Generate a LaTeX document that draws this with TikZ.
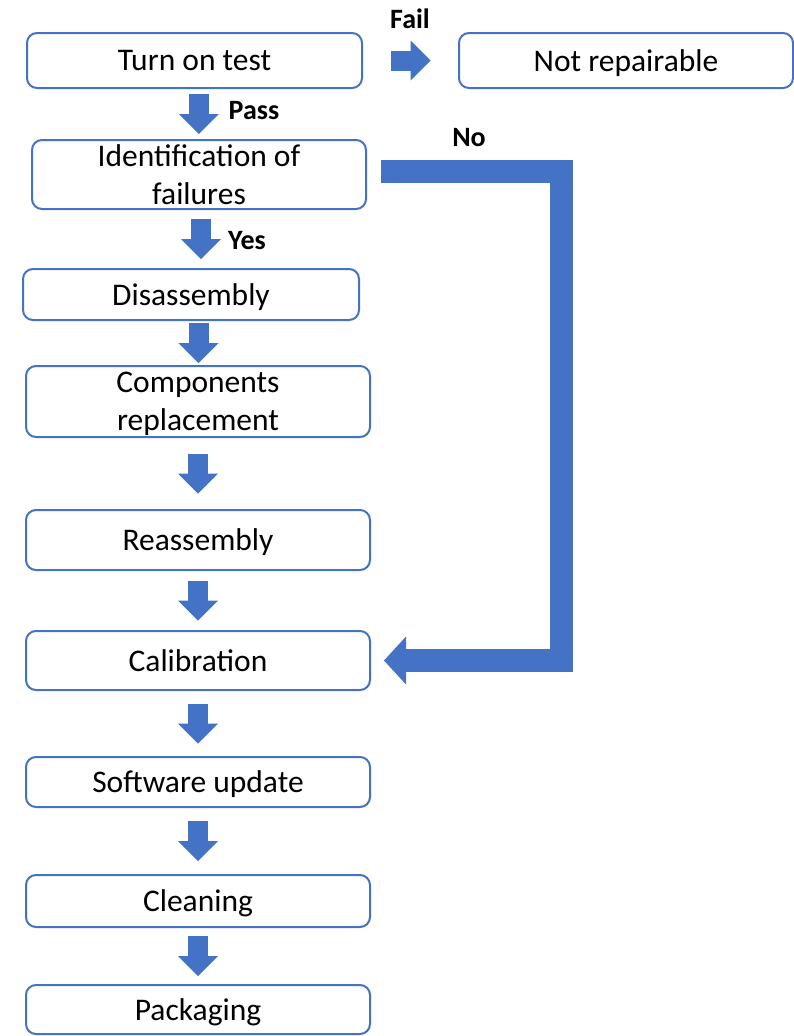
\documentclass[tikz,border=0pt]{standalone}
\usepackage{fontspec}
\setmainfont{Carlito}
\usetikzlibrary{arrows.meta,calc}
\definecolor{officeblue}{HTML}{4472C4}

\begin{document}
\begin{tikzpicture}[
x=1pt, y=1pt,
box/.style={
draw=officeblue,
line width=2pt,
rounded corners=10pt,
align=center,
inner sep=0pt,
text depth=0pt,
font=\fontsize{31.5}{38}\selectfont
},
lbl/.style={
font=\fontsize{28}{32}\selectfont\bfseries
},
flow/.style={
officeblue,
line width=20pt,
-{Triangle[width=40pt,length=20pt,line width=0pt]}
},
bigflow/.style={
officeblue,
line width=23pt,
line join=miter,
-{Triangle[width=48pt,length=22pt,line width=0pt]}
}
]

\useasboundingbox (0,0) rectangle (794,-1036);

\node[box, minimum width=335pt, minimum height=55pt] (T) at (194.5,-60.5) {Turn on test};
\node[box, minimum width=334pt, minimum height=55pt] (N) at (626,-60.5) {Not repairable};
\node[box, minimum width=334pt, minimum height=69pt] (I) at (199,-174.5) {Identification of\\failures};
\node[box, minimum width=336pt, minimum height=51pt] (D) at (191,-294.5) {Disassembly};
\node[box, minimum width=344pt, minimum height=71pt] (C) at (198,-401.5) {Components\\replacement};
\node[box, minimum width=344pt, minimum height=60pt] (R) at (198,-540) {Reassembly};
\node[box, minimum width=344pt, minimum height=59pt] (K) at (198,-660.5) {Calibration};
\node[box, minimum width=344pt, minimum height=50pt] (S) at (198,-782) {Software update};
\node[box, minimum width=344pt, minimum height=52pt] (L) at (198,-901) {Cleaning};
\node[box, minimum width=344pt, minimum height=49pt] (P) at (198,-1009.5) {Packaging};

\node[lbl] (fail) at (410,-19) {Fail};
\node[lbl] (pass) at (254,-111) {Pass};
\node[lbl] (yes) at (247,-241) {Yes};
\node[lbl] (no) at (469,-138) {No};

\draw[flow] ($(T.east)!.5!(N.west)+(-20,0)$) -- +(40,0);
\draw[flow] ($(T.south)!.5!(I.north)+(2,20)$) -- +(0,-40);
\draw[flow] ($(I.south)!.5!(D.north)+(6,20)$) -- +(0,-40);
\draw[flow] ($(D.south)!.5!(C.north)+(4,20)$) -- +(0,-40);
\draw[flow] ($(C.south)!.5!(R.north)+(0,20)$) -- +(0,-40);
\draw[flow] ($(R.south)!.5!(K.north)+(0,20)$) -- +(0,-40);
\draw[flow] ($(K.south)!.5!(S.north)+(0,20)$) -- +(0,-40);
\draw[flow] ($(S.south)!.5!(L.north)+(0,20)$) -- +(0,-40);
\draw[flow] ($(L.south)!.5!(P.north)+(0,20)$) -- +(0,-40);

\draw[bigflow] ([shift={(14,3.5)}]I.east) -| ([xshift=190pt]K.east) -- ([xshift=13pt]K.east);

\end{tikzpicture}
\end{document}
